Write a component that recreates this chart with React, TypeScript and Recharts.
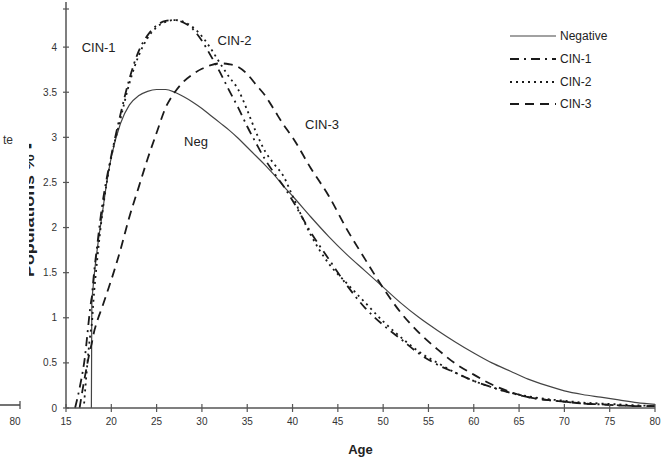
import React from "react";
import { LineChart, Line, XAxis, YAxis, ReferenceDot } from "recharts";

const ages = [16, 16.5, 17, 17.8, 17.85, 18, 18.5, 19, 19.5, 20, 21, 22, 23, 24, 25, 26, 27, 28, 29, 30, 31, 32, 33, 34, 35, 36, 37, 38, 39, 40, 42, 44, 46, 48, 50, 52, 54, 56, 58, 60, 62, 64, 66, 68, 70, 72, 74, 76, 78, 80];

const negative = [null, null, null, 0, 1.15, 1.35, 1.8, 2.15, 2.5, 2.78, 3.15, 3.36, 3.46, 3.51, 3.53, 3.53, 3.5, 3.45, 3.39, 3.32, 3.24, 3.16, 3.08, 2.99, 2.89, 2.79, 2.69, 2.58, 2.46, 2.35, 2.12, 1.9, 1.7, 1.52, 1.34, 1.16, 1.0, 0.86, 0.73, 0.61, 0.5, 0.41, 0.32, 0.25, 0.19, 0.15, 0.12, 0.09, 0.06, 0.04];
const cin1 = [0, 0.22, 0.5, 1.2, 1.23, 1.4, 1.85, 2.25, 2.55, 2.8, 3.25, 3.65, 3.95, 4.13, 4.24, 4.29, 4.3, 4.27, 4.2, 4.07, 3.9, 3.72, 3.52, 3.33, 3.12, 2.93, 2.75, 2.6, 2.46, 2.3, 1.95, 1.65, 1.36, 1.11, 0.92, 0.76, 0.6, 0.48, 0.39, 0.3, 0.23, 0.17, 0.12, 0.09, 0.07, 0.05, 0.04, 0.03, 0.02, 0.02];
const cin2 = [null, null, 0.05, 0.9, 0.93, 1.15, 1.7, 2.15, 2.5, 2.78, 3.2, 3.6, 3.9, 4.1, 4.22, 4.28, 4.3, 4.28, 4.22, 4.12, 3.98, 3.82, 3.67, 3.53, 3.3, 3.05, 2.84, 2.7, 2.57, 2.35, 1.92, 1.6, 1.38, 1.17, 0.96, 0.78, 0.62, 0.5, 0.39, 0.3, 0.23, 0.17, 0.13, 0.1, 0.08, 0.06, 0.05, 0.04, 0.03, 0.02];
const cin3 = [null, 0, 0.3, 0.7, 0.72, 0.8, 0.98, 1.12, 1.27, 1.42, 1.75, 2.12, 2.44, 2.76, 3.05, 3.33, 3.5, 3.62, 3.7, 3.76, 3.8, 3.82, 3.81, 3.78, 3.7, 3.58, 3.46, 3.3, 3.14, 3.0, 2.66, 2.35, 1.98, 1.65, 1.33, 1.05, 0.83, 0.65, 0.49, 0.37, 0.26, 0.18, 0.12, 0.09, 0.07, 0.05, 0.04, 0.03, 0.02, 0.02];

const xTicks = [15, 20, 25, 30, 35, 40, 45, 50, 55, 60, 65, 70, 75, 80];
const yTicks = [0, 0.5, 1, 1.5, 2, 2.5, 3, 3.5, 4, 4.5];

const series = [
  { key: "neg", name: "Negative", dash: undefined, width: 1.2, color: "#444" },
  { key: "cin1", name: "CIN-1", dash: "9 5 2 5", width: 1.8, color: "#1a1a1a" },
  { key: "cin2", name: "CIN-2", dash: "2 4", width: 1.8, color: "#1a1a1a" },
  { key: "cin3", name: "CIN-3", dash: "9 6", width: 1.8, color: "#1a1a1a" },
];

const notes = [
  { text: "CIN-1", age: 18.6, val: 4.0 },
  { text: "CIN-2", age: 33.6, val: 4.08 },
  { text: "Neg", age: 29.35, val: 2.96 },
  { text: "CIN-3", age: 43.25, val: 3.14 },
];

const data = ages.map((age, i) => ({
  age,
  neg: negative[i],
  cin1: cin1[i],
  cin2: cin2[i],
  cin3: cin3[i],
}));

const font = "'Liberation Sans', Arial, sans-serif";

// top tick label is cut off in the original, so only the tick mark is drawn there
const YTick = ({ x, y, payload }: any) => (
  <g>
    <line x1={x - 3} x2={x + 3} y1={y} y2={y} stroke="#555" strokeWidth={1.2} />
    {payload.value < 4.5 && (
      <text x={x - 9} y={y} dy={3.5} textAnchor="end" fontSize={10} fill="#333" fontFamily={font}>
        {payload.value}
      </text>
    )}
  </g>
);

const XTick = ({ x, y, payload }: any) => (
  <g>
    <line x1={x} x2={x} y1={y - 4} y2={y + 4} stroke="#555" strokeWidth={1.2} />
    <text x={x} y={y + 17} textAnchor="middle" fontSize={10} fill="#333" fontFamily={font}>
      {payload.value}
    </text>
  </g>
);

const LegendBox = () => (
  <div style={{ fontFamily: font, fontSize: 12, color: "#222" }}>
    {series.map((s) => (
      <div key={s.key} style={{ display: "flex", alignItems: "center", height: 22.7 }}>
        <svg width={52} height={10}>
          <line x1={2} x2={48} y1={5} y2={5} stroke={s.color} strokeWidth={s.dash ? 1.8 : 1.2} strokeDasharray={s.dash} />
        </svg>
        <span>{s.name}</span>
      </div>
    ))}
  </div>
);

export default function App() {
  return (
    <div style={{ position: "absolute", left: 0, top: 0, width: 668, height: 458, background: "#fff" }}>
      <LineChart width={668} height={458} data={data} margin={{ top: 2, right: 13, bottom: 0, left: 0 }}>
        <XAxis
          dataKey="age"
          type="number"
          domain={[15, 80]}
          ticks={xTicks}
          tickSize={0}
          tickMargin={0}
          tick={<XTick />}
          stroke="#555"
          strokeWidth={1.5}
          height={50}
          label={{ value: "Age", position: "insideBottom", offset: 4, fontSize: 13, fontWeight: "bold", fill: "#222", fontFamily: font }}
        />
        <YAxis
          type="number"
          domain={[0, 4.5]}
          ticks={yTicks}
          tickSize={0}
          tickMargin={0}
          tick={<YTick />}
          stroke="#555"
          strokeWidth={1.5}
          width={66}
        />
        {series.map((s) => (
          <Line
            key={s.key}
            type="monotone"
            dataKey={s.key}
            name={s.name}
            stroke={s.color}
            strokeWidth={s.width}
            strokeDasharray={s.dash}
            dot={false}
            activeDot={false}
            isAnimationActive={false}
          />
        ))}
        {notes.map((n) => (
          <ReferenceDot
            key={n.text}
            x={n.age}
            y={n.val}
            r={0}
            fill="none"
            stroke="none"
            label={{ value: n.text, position: "center", fontSize: 13, fill: "#222", fontFamily: font }}
          />
        ))}
      </LineChart>
      <div style={{ position: "absolute", top: 25, left: 508, width: 150 }}>
        <LegendBox />
      </div>
      <svg width={668} height={458} style={{ position: "absolute", left: 0, top: 0, pointerEvents: "none" }}>
        <defs>
          <clipPath id="cutLabel">
            <rect x={29} y={0} width={20} height={458} />
          </clipPath>
        </defs>
        <text x={3} y={144} fontSize={12} fill="#333" fontFamily={font}>te</text>
        <line x1={0} x2={20} y1={405} y2={405} stroke="#444" strokeWidth={1.5} />
        <line x1={20} x2={20} y1={401} y2={409} stroke="#444" strokeWidth={1.2} />
        <text x={15} y={425} fontSize={10} fill="#333" textAnchor="middle" fontFamily={font}>80</text>
        <g clipPath="url(#cutLabel)">
          <text
            transform="translate(34,210) rotate(-90)"
            textAnchor="middle"
            fontSize={14}
            fontWeight="bold"
            fill="#222"
            fontFamily={font}
            textLength={134}
            lengthAdjust="spacingAndGlyphs"
          >
            Populations % ▪
          </text>
        </g>
      </svg>
    </div>
  );
}
